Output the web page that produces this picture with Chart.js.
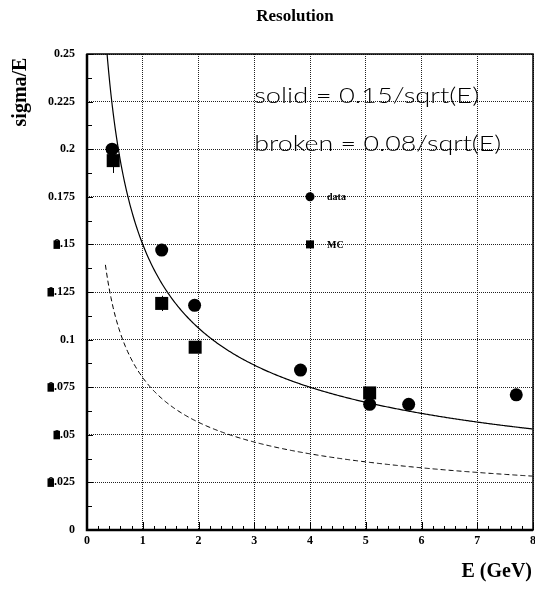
<!DOCTYPE html>
<html>
<head>
<meta charset="utf-8">
<title>Resolution</title>
<script src="https://cdn.jsdelivr.net/npm/chart.js@4"></script>
<style>
  html, body { margin: 0; padding: 0; background: #fff; }
  canvas { display: block; }
</style>
</head>
<body>
<canvas id="resChart" width="535" height="589"></canvas>
<script>
// measured resolution, E in GeV
const dataE = [0.45, 1.34, 1.93, 3.83, 5.07, 5.77, 7.70];
const dataRes = [0.200, 0.147, 0.118, 0.084, 0.066, 0.066, 0.071];
const dataErr = [0, 0, 0, 0, 0, 0, 0.003];

// simulation
const mcE = [0.47, 1.34, 1.94, 5.07];
const mcRes = [0.194, 0.119, 0.096, 0.072];
const mcErr = [0.0065, 0.004, 0, 0];

// stochastic terms of the two reference curves
const solidCoef = 0.15;
const brokenCoef = 0.08;
const curveFrom = 0.33;
const curveTo = 8;

const xTicks = [0, 1, 2, 3, 4, 5, 6, 7, 8];
const yTicks = [0, 0.025, 0.05, 0.075, 0.1, 0.125, 0.15, 0.175, 0.2, 0.225, 0.25];
// y labels whose first digit is printed as a solid block
const blockedTicks = [0.025, 0.05, 0.075, 0.125, 0.15];

const serif = '"Liberation Serif", "Times New Roman", serif';

function curve(coef) {
  const pts = [];
  for (let e = curveFrom; e <= curveTo + 1e-9; e += 0.02) {
    pts.push({ x: e, y: coef / Math.sqrt(e) });
  }
  return pts;
}

function zip(xs, ys) {
  return xs.map((x, i) => ({ x: x, y: ys[i] }));
}

// draws text squeezed/stretched to a given width
function fitText(ctx, text, x, y, width) {
  const w = ctx.measureText(text).width;
  ctx.save();
  ctx.translate(x, y);
  ctx.scale(width / w, 1);
  ctx.fillText(text, 0, 0);
  ctx.restore();
}

const decorations = {
  id: 'decorations',
  beforeDatasetsDraw(chart) {
    const { ctx } = chart;
    const xs = chart.scales.x, ys = chart.scales.y;
    // error bars under the markers
    ctx.save();
    ctx.strokeStyle = '#000';
    ctx.lineWidth = 1;
    const bars = [[dataE, dataRes, dataErr], [mcE, mcRes, mcErr]];
    bars.forEach(([ex, ey, er]) => {
      ex.forEach((e, i) => {
        if (!er[i]) return;
        const px = Math.round(xs.getPixelForValue(e)) + 0.5;
        ctx.beginPath();
        ctx.moveTo(px, ys.getPixelForValue(ey[i] - er[i]));
        ctx.lineTo(px, ys.getPixelForValue(ey[i] + er[i]));
        ctx.stroke();
      });
    });
    ctx.restore();
  },
  afterDraw(chart) {
    const { ctx, chartArea: a } = chart;
    const xs = chart.scales.x, ys = chart.scales.y;
    ctx.save();
    ctx.strokeStyle = '#000';
    ctx.fillStyle = '#000';

    // ticks along bottom and left axes
    ctx.lineWidth = 1;
    ctx.beginPath();
    for (let i = 0; i <= 40; i++) {
      const px = Math.round(xs.getPixelForValue(i * 0.2)) + 0.5;
      const len = i % 5 === 0 ? 8 : 4;
      ctx.moveTo(px, a.bottom);
      ctx.lineTo(px, a.bottom - len);
    }
    for (let i = 0; i <= 20; i++) {
      const py = Math.round(ys.getPixelForValue(i * 0.0125)) + 0.5;
      const len = i % 2 === 0 ? 6 : 5;
      ctx.moveTo(a.left, py);
      ctx.lineTo(a.left + len, py);
    }
    ctx.stroke();

    // frame
    ctx.lineWidth = 1.5;
    ctx.strokeRect(a.left, a.top, a.right - a.left, a.bottom - a.top);
    ctx.lineWidth = 2.5;
    ctx.beginPath();
    ctx.moveTo(a.left, a.top);
    ctx.lineTo(a.left, a.bottom);
    ctx.lineTo(a.right, a.bottom);
    ctx.stroke();

    // x labels, centred under their ticks even where the last one runs off the edge
    ctx.font = 'bold 12px ' + serif;
    ctx.textAlign = 'center';
    ctx.textBaseline = 'middle';
    xTicks.forEach(v => {
      ctx.fillText(String(v), xs.getPixelForValue(v), a.bottom + 11);
    });

    // blocks over leading digits
    blockedTicks.forEach(v => {
      const label = Number(v.toFixed(3)).toString();
      const w = ctx.measureText(label).width;
      const zw = ctx.measureText('0').width;
      const right = a.left - 12;
      const py = ys.getPixelForValue(v);
      ctx.fillRect(right - w - 0.5, py - 4, zw + 0.5, 8.5);
    });

    // formula annotations
    ctx.font = '300 22px Lato, "DejaVu Sans", sans-serif';
    ctx.textAlign = 'left';
    ctx.textBaseline = 'alphabetic';
    fitText(ctx, 'solid = ' + solidCoef.toFixed(2) + '/sqrt(E)',
      xs.getPixelForValue(3.0), ys.getPixelForValue(0.2245), 225);
    fitText(ctx, 'broken = ' + brokenCoef.toFixed(2) + '/sqrt(E)',
      xs.getPixelForValue(3.0), ys.getPixelForValue(0.199), 247);

    // key
    const kx = xs.getPixelForValue(4.0);
    const ky1 = ys.getPixelForValue(0.175);
    const ky2 = ys.getPixelForValue(0.15);
    ctx.beginPath();
    ctx.arc(kx, ky1, 4.5, 0, Math.PI * 2);
    ctx.fill();
    ctx.fillRect(kx - 4, ky2 - 4, 8, 8);
    ctx.font = 'bold 10px ' + serif;
    ctx.textBaseline = 'middle';
    ctx.fillText('data', kx + 17, ky1 + 1);
    ctx.fillText('MC', kx + 17, ky2 + 1);

    // titles
    ctx.font = 'bold 17px ' + serif;
    ctx.textAlign = 'center';
    ctx.textBaseline = 'alphabetic';
    ctx.fillText('Resolution', 295, 21);

    ctx.font = 'bold 20px ' + serif;
    ctx.textAlign = 'right';
    ctx.fillText('E (GeV)', 532, 577);

    ctx.save();
    ctx.translate(21, 92);
    ctx.rotate(-Math.PI / 2);
    ctx.textAlign = 'center';
    ctx.textBaseline = 'middle';
    ctx.fillText('sigma/E', 0, 0);
    ctx.restore();

    ctx.restore();
  }
};

const ctx = document.getElementById('resChart').getContext('2d');
new Chart(ctx, {
  type: 'scatter',
  data: {
    datasets: [
      {
        label: 'solid',
        type: 'line',
        data: curve(solidCoef),
        borderColor: '#000',
        borderWidth: 1.2,
        pointRadius: 0,
        fill: false,
        clip: 0
      },
      {
        label: 'broken',
        type: 'line',
        data: curve(brokenCoef),
        borderColor: '#000',
        borderWidth: 1,
        borderDash: [5, 3],
        pointRadius: 0,
        fill: false,
        clip: 0
      },
      {
        label: 'data',
        data: zip(dataE, dataRes),
        pointStyle: 'circle',
        pointRadius: 6.5,
        backgroundColor: '#000',
        borderColor: '#000',
        borderWidth: 0
      },
      {
        label: 'MC',
        data: zip(mcE, mcRes),
        pointStyle: 'rect',
        pointRadius: 9.2,
        backgroundColor: '#000',
        borderColor: '#000',
        borderWidth: 0
      }
    ]
  },
  options: {
    responsive: false,
    animation: false,
    events: [],
    // big square markers would otherwise push the plot in from the right edge
    layout: { autoPadding: false, padding: { left: 0, top: 54, right: 2, bottom: 0 } },
    plugins: {
      legend: { display: false },
      tooltip: { enabled: false },
      title: { display: false }
    },
    scales: {
      x: {
        type: 'linear',
        min: 0,
        max: 8,
        afterBuildTicks: s => { s.ticks = xTicks.map(v => ({ value: v })); },
        afterFit: s => { s.height = 59; },
        grid: {
          color: '#222',
          lineWidth: 1,
          drawTicks: false
        },
        border: { display: false, dash: [1, 1] },
        // labels are drawn by the decorations plugin
        ticks: { display: false }
      },
      y: {
        type: 'linear',
        min: 0,
        max: 0.25,
        afterBuildTicks: s => { s.ticks = yTicks.map(v => ({ value: v })); },
        afterFit: s => { s.width = 87; },
        grid: {
          color: '#222',
          lineWidth: 1,
          drawTicks: false
        },
        border: { display: false, dash: [1, 1] },
        ticks: {
          padding: 12,
          color: '#000',
          font: { family: serif, weight: 'bold', size: 12 },
          callback: v => Number(v.toFixed(3)).toString()
        }
      }
    }
  },
  plugins: [decorations]
});
</script>
</body>
</html>
